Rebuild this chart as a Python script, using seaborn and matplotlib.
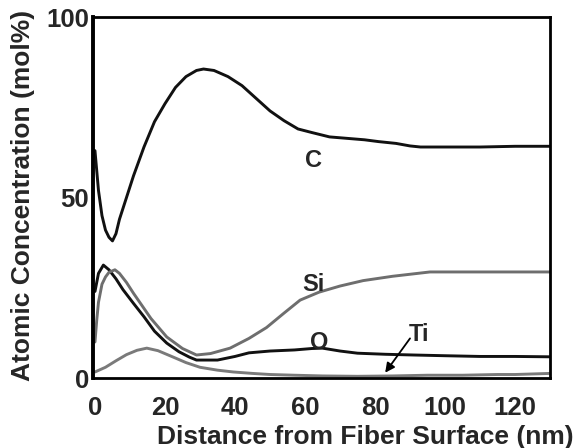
import matplotlib
matplotlib.use("Agg")
import matplotlib.pyplot as plt
from matplotlib.ticker import MultipleLocator
import seaborn as sns
import pandas as pd

# values (distance nm, concentration mol%)
c_x = [0, 1, 2, 3, 4, 5, 6, 7, 9, 11, 14, 17, 20, 23, 26, 29, 31, 34, 38, 42, 46, 50, 54, 58, 62, 67, 72, 77, 81, 86, 90, 93, 100, 110, 120, 130]
c_y = [63, 52, 45, 41, 39, 38, 40, 44, 50, 56, 64, 71, 76, 80.5, 83.5, 85.2, 85.6, 85.2, 83.5, 81, 77.5, 74, 71.3, 69, 68, 66.8, 66.4, 66, 65.5, 65, 64.3, 64, 64, 64, 64.2, 64.2]

o_x = [0, 1, 2.4, 4, 6, 8, 11, 14, 17, 20.5, 24, 27, 29, 35, 40, 44, 50, 57, 62, 65, 70, 75, 83, 91, 100, 110, 120, 130]
o_y = [24, 29, 31.3, 30, 27.5, 24.5, 20.7, 17, 13, 9.7, 7.3, 5.8, 5, 5, 6, 7, 7.5, 7.8, 8.2, 8.3, 7.5, 6.9, 6.6, 6.4, 6.2, 6, 6, 5.9]

si_x = [0, 0.5, 1, 2, 3, 4, 5.7, 7, 9, 11, 13, 16, 20.5, 25, 29, 33, 38.6, 44, 49, 54, 58.6, 64, 70, 76.6, 85, 95.7, 105, 115, 130]
si_y = [10, 16, 21, 26, 28, 29.3, 30, 29, 26.5, 23.5, 20.7, 16.5, 11.4, 8.2, 6.4, 6.8, 8.3, 11, 14, 18, 21.6, 23.8, 25.5, 27, 28.2, 29.4, 29.4, 29.4, 29.4]

ti_x = [0, 3, 6, 9, 12, 14.8, 18, 22.4, 26, 30, 35, 39.5, 45, 50, 57, 65, 75, 85, 95, 105, 115, 120, 130]
ti_y = [1.7, 3, 4.8, 6.5, 7.7, 8.3, 7.6, 5.8, 4.3, 3, 2.2, 1.7, 1.3, 1.0, 0.8, 0.6, 0.5, 0.6, 0.8, 0.8, 1.0, 1.0, 1.3]

series = [("C", c_x, c_y), ("O", o_x, o_y), ("Si", si_x, si_y), ("Ti", ti_x, ti_y)]
colors = {"C": "#111111", "O": "#111111", "Si": "#6e6e6e", "Ti": "#7a7a7a"}

sns.set_style("white")
plt.rcParams['font.family'] = ['Liberation Sans', 'DejaVu Sans']
plt.rcParams['font.weight'] = 'bold'

fig = plt.figure(figsize=(5.79, 4.48), dpi=100)
ax = fig.add_axes([0.161, 0.156, 0.789, 0.806])

for name, xs, ys in series:
    df = pd.DataFrame({"x": xs, "y": ys})
    sns.lineplot(data=df, x="x", y="y", ax=ax, color=colors[name], lw=2.1, sort=False)

ax.set_xlim(-0.5, 130)
ax.set_ylim(0, 100)
ax.xaxis.set_major_locator(MultipleLocator(20))
ax.xaxis.set_minor_locator(MultipleLocator(10))
ax.yaxis.set_major_locator(MultipleLocator(50))
ax.yaxis.set_minor_locator(MultipleLocator(10))
ax.tick_params(which='both', direction='in', color='black', width=1.5)
ax.tick_params(which='major', length=8, labelsize=18.5)
ax.tick_params(which='minor', length=4)
ax.tick_params(axis='x', which='major', pad=13)
ax.tick_params(axis='y', which='major', pad=3)
for lab in ax.get_xticklabels() + ax.get_yticklabels():
    lab.set_fontweight('bold')

for side in ax.spines:
    ax.spines[side].set_color('black')
    ax.spines[side].set_linewidth(2)
ax.spines['left'].set_linewidth(2.8)

ax.set_xlabel("Distance from Fiber Surface (nm)", fontsize=19, fontweight='bold')
ax.set_ylabel("Atomic Concentration (mol%)", fontsize=19, fontweight='bold')
ax.xaxis.set_label_coords(0.595, -0.13)
ax.yaxis.set_label_coords(-0.127, 0.507)

ax.text(62.3, 60.4, "C", fontsize=17, fontweight='bold', ha='center', va='center')
ax.text(62.3, 25.8, "Si", fontsize=17, fontweight='bold', ha='center', va='center')
ax.text(64, 10, "O", fontsize=17, fontweight='bold', ha='center', va='center')
ax.text(92.5, 12.2, "Ti", fontsize=17, fontweight='bold', ha='center', va='center')
ax.annotate("", xy=(82.9, 1.5), xytext=(90, 11),
            arrowprops=dict(arrowstyle='-|>', color='black', lw=1.3, shrinkA=0, shrinkB=0,
                            mutation_scale=14))

fig.savefig("out.png", dpi=100)
